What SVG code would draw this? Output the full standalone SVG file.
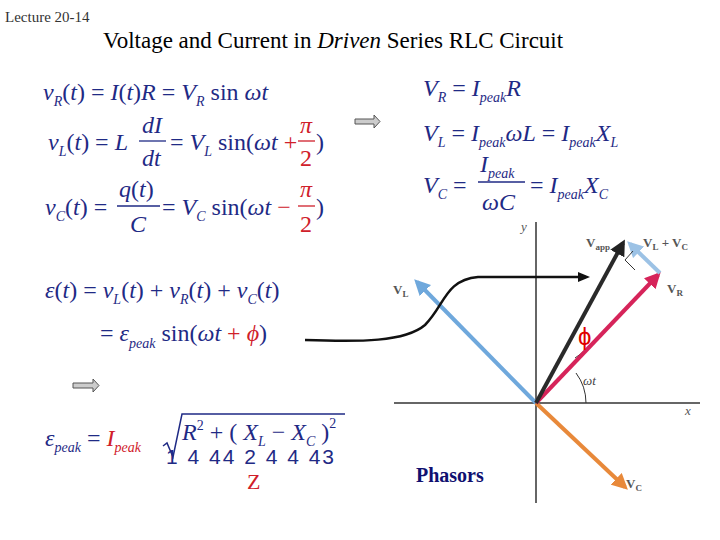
<svg xmlns="http://www.w3.org/2000/svg" width="720" height="540" viewBox="0 0 720 540">
<style>
.m{font-family:"Liberation Serif",serif;fill:#1f2a85;font-size:24px}
.i{font-style:italic}
.r{fill:#d0202a}
.s{font-size:14px;font-style:italic}
.vec{font-family:"Liberation Serif",serif;font-size:13px;font-weight:bold;fill:#555}
.ph{stroke-width:4;fill:none}
</style>
<defs>
<marker id="ab" markerWidth="4" markerHeight="4" refX="3" refY="2" orient="auto" markerUnits="strokeWidth"><path d="M0,0L4,2L0,4z" fill="#6fa8dc"/></marker>
<marker id="ao" markerWidth="4" markerHeight="4" refX="3" refY="2" orient="auto" markerUnits="strokeWidth"><path d="M0,0L4,2L0,4z" fill="#e8893a"/></marker>
<marker id="ar" markerWidth="4" markerHeight="4" refX="3" refY="2" orient="auto" markerUnits="strokeWidth"><path d="M0,0L4,2L0,4z" fill="#d6245a"/></marker>
<marker id="ak" markerWidth="4" markerHeight="4" refX="3" refY="2" orient="auto" markerUnits="strokeWidth"><path d="M0,0L4,2L0,4z" fill="#222"/></marker>
<marker id="al" markerWidth="4" markerHeight="4" refX="3" refY="2" orient="auto" markerUnits="strokeWidth"><path d="M0,0L4,2L0,4z" fill="#9cc2e5"/></marker>
<marker id="a1" markerWidth="12" markerHeight="10" refX="8" refY="5" orient="auto" markerUnits="userSpaceOnUse"><path d="M0,0L12,5L0,10z" fill="#111"/></marker>
</defs>
<rect width="720" height="540" fill="#fff"/>
<text x="5" y="22" font-family="Liberation Serif,serif" font-size="15" fill="#333">Lecture 20-14</text>
<text x="103" y="48" font-family="Liberation Serif,serif" font-size="23" fill="#000">Voltage and Current in <tspan font-style="italic">Driven</tspan> Series RLC Circuit</text>

<g id="eqR">
<text class="m" x="43" y="100"><tspan class="i">v</tspan><tspan class="s" dy="6">R</tspan><tspan dy="-6">(</tspan><tspan class="i">t</tspan>) = <tspan class="i">I</tspan>(<tspan class="i">t</tspan>)<tspan class="i">R</tspan> = <tspan class="i">V</tspan><tspan class="s" dy="6">R</tspan><tspan dy="-6"> sin </tspan><tspan class="i">ωt</tspan></text>
</g>
<g id="eqL">
<text class="m" x="48" y="150"><tspan class="i">v</tspan><tspan class="s" dy="6">L</tspan><tspan dy="-6">(</tspan><tspan class="i">t</tspan>) = <tspan class="i">L</tspan></text>
<text class="m i" x="142" y="133">dI</text><line x1="139" y1="141" x2="166" y2="141" stroke="#1f2a85" stroke-width="1.3"/><text class="m i" x="142" y="166">dt</text>
<text class="m" x="170" y="150">= <tspan class="i">V</tspan><tspan class="s" dy="6">L</tspan><tspan dy="-6"> sin(</tspan><tspan class="i">ωt</tspan> <tspan class="r">+</tspan></text>
<text class="m i r" x="300" y="133">π</text><line x1="298" y1="141" x2="315" y2="141" stroke="#d0202a" stroke-width="1.3"/><text class="m r" x="300" y="166">2</text>
<text class="m" x="316" y="150">)</text>
</g>
<g id="eqC">
<text class="m" x="45" y="215"><tspan class="i">v</tspan><tspan class="s" dy="6">C</tspan><tspan dy="-6">(</tspan><tspan class="i">t</tspan>) =</text>
<text class="m" x="119" y="197"><tspan class="i">q</tspan>(<tspan class="i">t</tspan>)</text><line x1="117" y1="206" x2="160" y2="206" stroke="#1f2a85" stroke-width="1.3"/><text class="m i" x="130" y="232">C</text>
<text class="m" x="162" y="215">= <tspan class="i">V</tspan><tspan class="s" dy="6">C</tspan><tspan dy="-6"> sin(</tspan><tspan class="i">ωt</tspan> <tspan class="r">−</tspan></text>
<text class="m i r" x="300" y="197">π</text><line x1="298" y1="206" x2="315" y2="206" stroke="#d0202a" stroke-width="1.3"/><text class="m r" x="300" y="232">2</text>
<text class="m" x="316" y="215">)</text>
</g>
<g id="eqRight">
<text class="m" x="423" y="96"><tspan class="i">V</tspan><tspan class="s" dy="6">R</tspan><tspan dy="-6"> = </tspan><tspan class="i">I</tspan><tspan class="s" dy="6">peak</tspan><tspan class="i" dy="-6">R</tspan></text>
<text class="m" x="423" y="141"><tspan class="i">V</tspan><tspan class="s" dy="6">L</tspan><tspan dy="-6"> = </tspan><tspan class="i">I</tspan><tspan class="s" dy="6">peak</tspan><tspan class="i" dy="-6">ωL</tspan> = <tspan class="i">I</tspan><tspan class="s" dy="6">peak</tspan><tspan class="i" dy="-6">X</tspan><tspan class="s" dy="6">L</tspan></text>
<text class="m" x="423" y="193"><tspan class="i">V</tspan><tspan class="s" dy="6">C</tspan><tspan dy="-6"> =</tspan></text>
<text class="m" x="480" y="172"><tspan class="i">I</tspan><tspan class="s" dy="6">peak</tspan></text><line x1="478" y1="182" x2="525" y2="182" stroke="#1f2a85" stroke-width="1.3"/><text class="m i" x="482" y="210">ωC</text>
<text class="m" x="530" y="193">= <tspan class="i">I</tspan><tspan class="s" dy="6">peak</tspan><tspan class="i" dy="-6">X</tspan><tspan class="s" dy="6">C</tspan></text>
</g>
<g id="arrows">
<path d="M355,119h19v-4l6,6.5l-6,6.5v-4h-19z" fill="#ccc" stroke="#555" stroke-width="1"/>
<path d="M73,383h20v-4l6,6.5l-6,6.5v-4h-20z" fill="#ccc" stroke="#555" stroke-width="1"/>
</g>
<g id="eqEmf">
<text class="m" x="45" y="298" font-size="27"><tspan class="i">ε</tspan>(<tspan class="i">t</tspan>) = <tspan class="i">v</tspan><tspan class="s" dy="6">L</tspan><tspan dy="-6">(</tspan><tspan class="i">t</tspan>) + <tspan class="i">v</tspan><tspan class="s" dy="6">R</tspan><tspan dy="-6">(</tspan><tspan class="i">t</tspan>) + <tspan class="i">v</tspan><tspan class="s" dy="6">C</tspan><tspan dy="-6">(</tspan><tspan class="i">t</tspan>)</text>
<text class="m" x="100" y="341" font-size="27">= <tspan class="i">ε</tspan><tspan class="s" dy="7">peak</tspan><tspan dy="-7"> sin(</tspan><tspan class="i">ωt</tspan> <tspan class="r">+</tspan> <tspan class="i r">ϕ</tspan>)</text>
</g>
<g id="eqPeak">
<text class="m" x="45" y="446"><tspan class="i">ε</tspan><tspan class="s" dy="6">peak</tspan><tspan dy="-6"> = </tspan><tspan class="i r">I</tspan><tspan class="s r" dy="6">peak</tspan></text>
<path d="M163,446l4,-3l6,14l9,-43h163" fill="none" stroke="#1f2a85" stroke-width="1.5"/>
<text class="m" x="182" y="440"><tspan class="i">R</tspan><tspan font-size="14" dy="-10">2</tspan><tspan dy="10"> + ( </tspan><tspan class="i">X</tspan><tspan class="s" dy="6">L</tspan><tspan dy="-6"> − </tspan><tspan class="i">X</tspan><tspan class="s" dy="6">C</tspan><tspan dy="-6"> )</tspan><tspan font-size="14" dy="-12">2</tspan></text>
<text x="166" y="464" font-family="Liberation Sans,sans-serif" font-size="21" fill="#1f2a85" textLength="168">1 4 44 2 4 4 43</text>
<text x="247" y="489" font-family="Liberation Serif,serif" font-size="22" fill="#d0202a">Z</text>
</g>
<g id="phasor">
<line x1="536" y1="222" x2="536" y2="503" stroke="#333" stroke-width="1.5"/>
<line x1="394" y1="403" x2="700" y2="403" stroke="#333" stroke-width="1.5"/>
<text x="521" y="231" font-family="Liberation Serif,serif" font-style="italic" font-size="13" fill="#555">y</text>
<text x="685" y="415" font-family="Liberation Serif,serif" font-style="italic" font-size="13" fill="#555">x</text>
<path d="M586,403A50,50 0 0 0 576,373" fill="none" stroke="#333" stroke-width="1"/>
<text x="583" y="385" font-family="Liberation Serif,serif" font-style="italic" font-size="13" fill="#444">ωt</text>
<path d="M585,350A60,60 0 0 1 575,358" fill="none" stroke="#333" stroke-width="1"/>
<line x1="536" y1="403" x2="417" y2="282" class="ph" stroke="#6fa8dc" marker-end="url(#ab)"/>
<line x1="536" y1="403" x2="625" y2="487" class="ph" stroke="#e8893a" marker-end="url(#ao)"/>
<line x1="536" y1="403" x2="658" y2="275" class="ph" stroke="#d6245a" marker-end="url(#ar)"/>
<line x1="660" y1="273" x2="630" y2="244" class="ph" stroke="#9cc2e5" marker-end="url(#al)"/>
<line x1="536" y1="403" x2="623" y2="243" class="ph" stroke="#2a2a2a" marker-end="url(#ak)"/>
<path d="M635,270l-10,-10l8,-9" fill="none" stroke="#333" stroke-width="1"/>
<text x="393" y="294" class="vec">V<tspan font-size="9" dy="3">L</tspan></text>
<text x="586" y="247" class="vec">V<tspan font-size="9" dy="3">app</tspan></text>
<text x="643" y="247" class="vec">V<tspan font-size="9" dy="3">L</tspan><tspan dy="-3"> + V</tspan><tspan font-size="9" dy="3">C</tspan></text>
<text x="667" y="293" class="vec">V<tspan font-size="9" dy="3">R</tspan></text>
<text x="626" y="488" class="vec">V<tspan font-size="9" dy="3">C</tspan></text>
<text x="578" y="345" font-family="Liberation Sans,sans-serif" font-size="24" fill="#e00000">ϕ</text>
<text x="416" y="482" font-family="Liberation Serif,serif" font-weight="bold" font-size="20" fill="#101070">Phasors</text>
</g>
<g id="connectors">
<path d="M305,340C360,342 405,342 425,325C445,305 445,280 478,277L586,277" fill="none" stroke="#111" stroke-width="2.5" marker-end="url(#a1)"/>
</g>
</svg>
